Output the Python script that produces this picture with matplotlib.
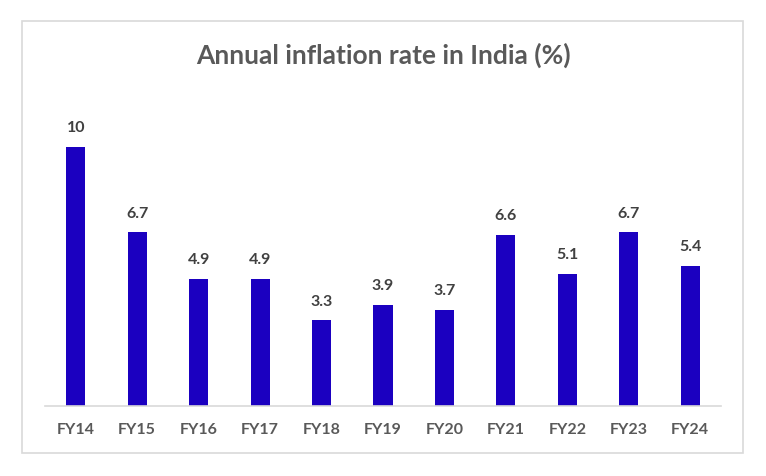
import matplotlib
matplotlib.use("Agg")
import matplotlib.pyplot as plt
from matplotlib.patches import Rectangle

plt.rcParams['font.family'] = ['Lato', 'DejaVu Sans']

years = ["FY14", "FY15", "FY16", "FY17", "FY18", "FY19", "FY20", "FY21", "FY22", "FY23", "FY24"]
inflation = [10, 6.7, 4.9, 4.9, 3.3, 3.9, 3.7, 6.6, 5.1, 6.7, 5.4]
labels = ["10", "6.7", "4.9", "4.9", "3.3", "3.9", "3.7", "6.6", "5.1", "6.7", "5.4"]

W, H = 766, 476
fig = plt.figure(figsize=(W / 100, H / 100), dpi=100)

# light gray frame round the chart
fig.patches.append(Rectangle((22 / W, (H - 453) / H), (743 - 22) / W, (453 - 21) / H,
                             transform=fig.transFigure, fill=False,
                             edgecolor='#d9d9d9', linewidth=1.2))

ax = fig.add_axes([45 / W, (H - 406) / H, (721 - 45) / W, (406 - 95) / H])
x = range(len(years))
ax.bar(x, inflation, width=0.31, color='#1b00c0')
ax.set_xlim(-0.5, len(years) - 0.5)
ax.set_ylim(0, 12)

for i, (v, lab) in enumerate(zip(inflation, labels)):
    ax.text(i, v + 0.45, lab, ha='center', va='bottom', fontsize=11.5,
            fontweight='bold', color='#404040')

ax.set_xticks(list(x))
ax.set_xticklabels(years, fontsize=11.5, fontweight='bold', color='#595959')
ax.tick_params(axis='x', length=0, pad=12)
ax.set_yticks([])
for s in ['top', 'right', 'left']:
    ax.spines[s].set_visible(False)
ax.spines['bottom'].set_color('#d9d9d9')
ax.spines['bottom'].set_linewidth(1.2)

fig.text(383 / W, (H - 55) / H, "Annual inflation rate in India (%)", ha='center', va='center',
         fontsize=19, fontweight='bold', color='#595959')

fig.savefig("out.png", dpi=100)
